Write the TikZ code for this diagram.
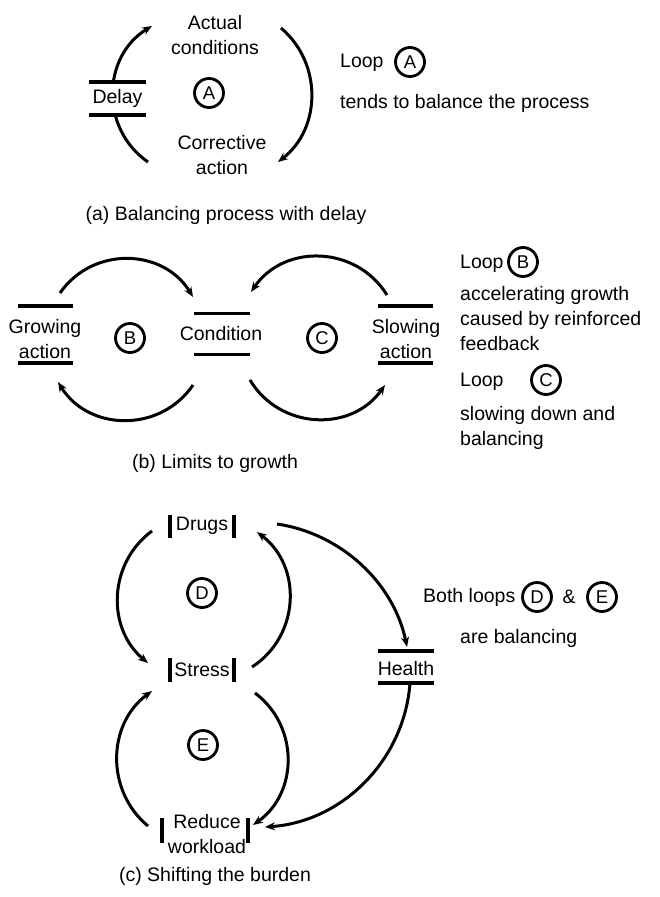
\documentclass[tikz,border=0pt]{standalone}
\usepackage{fontspec}
\setmainfont{Liberation Sans}
\usetikzlibrary{arrows.meta,calc}
\begin{document}
\begin{tikzpicture}[x=1pt,y=1pt,
  every node/.style={font=\fontsize{19.5}{25}\selectfont, inner sep=0pt, align=center},
  link/.style={line width=3pt, -{Stealth[length=10pt,width=8pt]}},
  bar/.style={line width=3.5pt},
  loopmark/.style={circle, draw, line width=2.8pt, minimum size=29pt, font=\fontsize{18.5}{18.5}\selectfont},
]
\useasboundingbox (0,0) rectangle (660,-897);

% ---------- (a) balancing process with delay ----------
\coordinate (aLs) at (148,-162);
\coordinate (aLe) at (152,-26);
\coordinate (aRs) at (281,-28);
\coordinate (aRe) at (278,-162);
\draw[link] (aLs) to[bend left=57, looseness=1.1] (aLe);
\draw[link] (aRs) to[bend left=51, looseness=1.04] (aRe);

\node (act) at (215,-35) {Actual\\conditions};
\node (corr) at (222,-155) {Corrective\\action};
\node[loopmark] (lA) at (209,-93) {A};
\node[minimum width=57pt, minimum height=33pt, fill=white] (delay) at (117.5,-98.5) {Delay};
\draw[bar] (delay.north west) -- (delay.north east);
\draw[bar] (delay.south west) -- (delay.south east);

\node[anchor=west] (loopA) at (340,-63) {Loop};
\node[loopmark] (kA) at (410,-62) {A};
\node[anchor=west] (noteA) at (340,-103) {tends to balance the process};
\node (capA) at (226,-215) {(a) Balancing process with delay};

% ---------- (b) limits to growth ----------
\node (grow) at (45,-339) {Growing\\action};
\draw[bar] ($(grow)+(-27.5,33)$) -- ++(55,0);
\draw[bar] ($(grow)+(-27.5,-24)$) -- ++(55,0);
\node[loopmark] (lB) at (130,-338) {B};
\node (cond) at (221,-334) {Condition};
\draw[bar] ($(cond)+(-27,20.5)$) -- ++(56,0);
\draw[bar] ($(cond)+(-27,-20.5)$) -- ++(56,0);
\node[loopmark] (lC) at (322,-338) {C};
\node (slow) at (406,-339) {Slowing\\action};
\draw[bar] ($(slow)+(-28,33)$) -- ++(55,0);
\draw[bar] ($(slow)+(-28,-24)$) -- ++(55,0);

\coordinate (bTLs) at (60,-293);
\coordinate (bTLe) at (193,-297);
\coordinate (bTRs) at (387,-295);
\coordinate (bTRe) at (251,-292);
\coordinate (bBLs) at (193,-385);
\coordinate (bBLe) at (58,-382);
\coordinate (bBRs) at (250,-380);
\coordinate (bBRe) at (385,-385);
\draw[link] (bTLs) to[bend left=57, looseness=1.1] (bTLe);
\draw[link] (bTRs) to[bend right=57, looseness=1.1] (bTRe);
\draw[link] (bBLs) to[bend left=57, looseness=1.1] (bBLe);
\draw[link] (bBRs) to[bend right=57, looseness=1.1] (bBRe);

\node[anchor=west] (loopB) at (460,-264) {Loop};
\node[loopmark] (kB) at (523,-262) {B};
\node[anchor=north west, align=left] (noteB) at (460,-286) {accelerating growth\\caused by reinforced\\feedback};
\node[anchor=west] (loopC) at (460,-382) {Loop};
\node[loopmark] (kC) at (546,-380) {C};
\node[anchor=north west, align=left] (noteC) at (460,-406) {slowing down and\\balancing};
\node (capB) at (215,-463) {(b) Limits to growth};

% ---------- (c) shifting the burden ----------
\node (drugs) at (202,-526) {Drugs};
\draw[bar] ($(drugs)+(-32,11)$) -- ++(0,-23);
\draw[bar] ($(drugs)+(32,11)$) -- ++(0,-23);
\node[loopmark] (lD) at (202,-593) {D};
\node (stress) at (202,-670) {Stress};
\draw[bar] ($(stress)+(-32,12)$) -- ++(0,-24);
\draw[bar] ($(stress)+(32,12)$) -- ++(0,-24);
\node[loopmark] (lE) at (203,-745) {E};
\node (reduce) at (207,-834) {Reduce\\workload};
\draw[bar] ($(reduce)+(-45,16)$) -- ++(0,-25);
\draw[bar] ($(reduce)+(41,16)$) -- ++(0,-25);
\node (health) at (406,-669) {Health};
\draw[bar] ($(health)+(-28,18)$) -- ++(56,0);
\draw[bar] ($(health)+(-28,-14)$) -- ++(56,0);

\coordinate (cDLs) at (152,-531);
\coordinate (cDLe) at (148,-663);
\coordinate (cDRs) at (252,-667);
\coordinate (cDRe) at (257,-532);
\coordinate (cELs) at (148,-826);
\coordinate (cELe) at (152,-691);
\coordinate (cERs) at (255,-693);
\coordinate (cERe) at (253,-825);
\coordinate (cDHs) at (277,-524);
\coordinate (cDHe) at (407,-647);
\coordinate (cHRs) at (410,-683);
\coordinate (cHRe) at (265,-827);
\draw[link] (cDLs) to[bend right=52, looseness=1.05] (cDLe);
\draw[link] (cDRs) to[bend right=55, looseness=1.08] (cDRe);
\draw[link] (cELs) to[bend left=52, looseness=1.05] (cELe);
\draw[link] (cERs) to[bend left=54, looseness=1.07] (cERe);
\draw[link] (cDHs) to[bend left=35, looseness=0.93] (cDHe);
\draw[link] (cHRs) to[bend left=41, looseness=0.97] (cHRe);

\node[anchor=west] (both) at (423,-597) {Both loops};
\node[loopmark] (kD) at (537,-597) {D};
\node (amp) at (569,-597) {\&};
\node[loopmark] (kE) at (602,-597) {E};
\node[anchor=west] (noteDE) at (460,-638) {are balancing};
\node (capC) at (215,-876) {(c) Shifting the burden};
\end{tikzpicture}
\end{document}
